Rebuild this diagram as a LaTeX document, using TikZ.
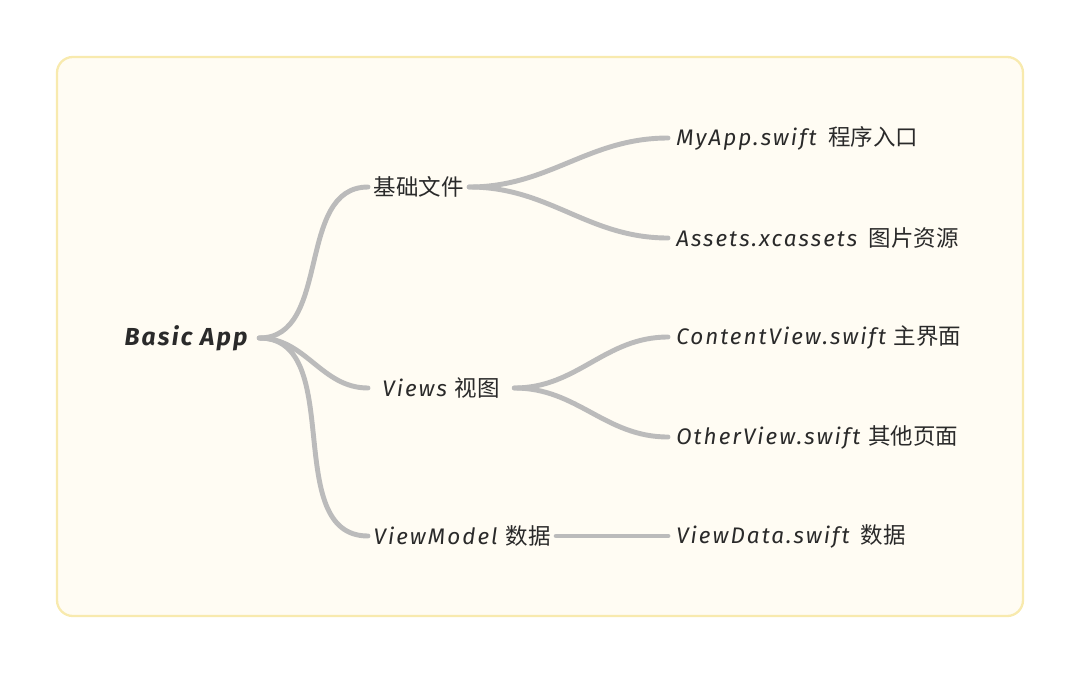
\documentclass[tikz,border=0pt]{standalone}
\usepackage{fontspec}
\setmainfont{Fira Sans}
\newfontfamily\hand[LetterSpace=9]{Fira Sans}
\newfontfamily\cjk{Noto Sans CJK SC}
\usetikzlibrary{positioning}

\definecolor{paper}{HTML}{FFFCF3}
\definecolor{rim}{HTML}{F8EAAE}
\definecolor{branchgray}{HTML}{BBBBBB}
\definecolor{ink}{HTML}{2A2A2A}

\tikzset{
	topic/.style={text=ink, inner ysep=3pt, inner xsep=3pt, anchor=west,
		font=\fontsize{12.8}{15}\selectfont\hand\itshape},
	rootic/.style={text=ink, inner xsep=6.5pt,
		font=\fontsize{14}{17}\selectfont\hand\bfseries\itshape},
	leaf/.style={topic, inner xsep=4.5pt},
	branch/.style={draw=branchgray, line width=2.8pt, line cap=round, out=0, in=180},
}

\begin{document}
\begin{tikzpicture}[x=0.02cm,y=-0.02cm]
	\useasboundingbox (0,0) rectangle (1080,674);
	% paper card
	\draw[rim, fill=paper, line width=1.3pt, rounded corners=9pt] (57,57) rectangle (1023,616);

	\draw
		node [rootic]                 (app)   at (186,338) {Basic App}
		node [topic]                  (base)  at (368,187) {\cjk 基础文件}
		node [topic,inner xsep=8pt]   (views) at (368,388) {Views \cjk 视图}
		node [topic]                  (model) at (368,536) {ViewModel \cjk 数据}

		node [leaf] (myapp)   at (668,138) {MyApp.swift\hspace{2pt} \cjk 程序入口}
		node [leaf] (assets)  at (668,238) {Assets.xcassets\hspace{2pt} \cjk 图片资源}
		node [leaf] (content) at (668,337) {ContentView.swift \cjk 主界面}
		node [leaf] (other)   at (668,437) {OtherView.swift \cjk 其他页面}
		node [leaf] (vdata)   at (668,536) {ViewData.swift\hspace{2pt} \cjk 数据}

		(app.east)   edge[branch] (base.west)
		(app.east)   edge[branch] (views.west)
		(app.east)   edge[branch] (model.west)
		(base.east)  edge[branch] (myapp.west)
		(base.east)  edge[branch] (assets.west)
		(views.east) edge[branch] (content.west)
		(views.east) edge[branch] (other.west)
		(model.east) edge[branch] (vdata.west)
	;
\end{tikzpicture}
\end{document}
